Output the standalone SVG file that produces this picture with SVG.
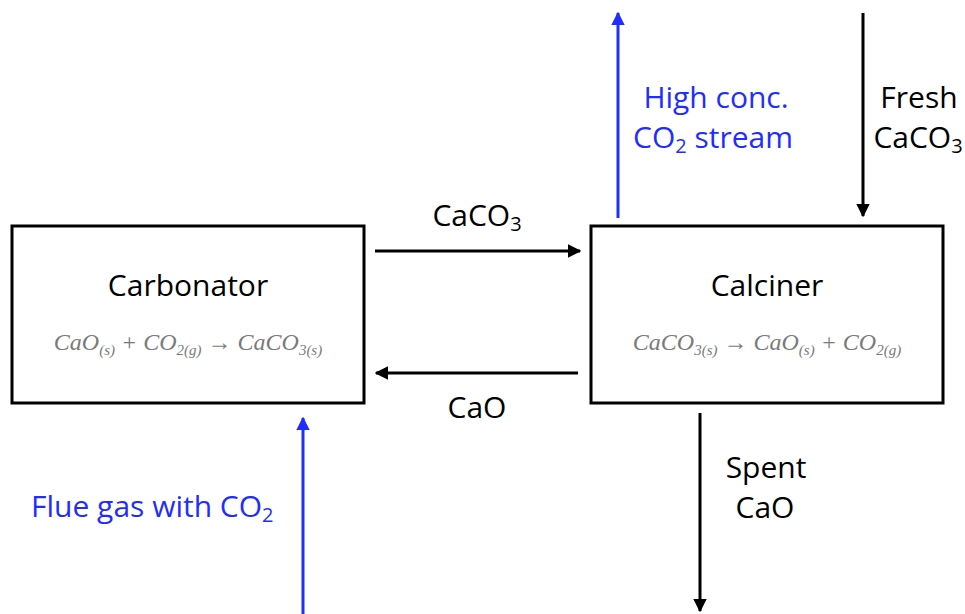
<svg xmlns="http://www.w3.org/2000/svg" width="965" height="614" viewBox="0 0 965 614">
<style>
.box{fill:#fff;stroke:#000;stroke-width:3}
.lbl{font-family:"Open Sans","Liberation Sans",sans-serif;font-size:30px;fill:#000}
.blue{fill:#1f2eff}
.eq{font-family:"Liberation Serif",serif;font-style:italic;font-size:24px;fill:#7a7a7a}
.ln{stroke:#000;stroke-width:3;fill:none}
.lnb{stroke:#1f2eff;stroke-width:3;fill:none}
</style>
<defs>
<marker id="ah" viewBox="0 0 10 10" refX="9" refY="5" markerWidth="4.5" markerHeight="4.5" orient="auto" markerUnits="strokeWidth">
<path d="M0,0 L10,5 L0,10 z" fill="#000"/>
</marker>
<marker id="ahb" viewBox="0 0 10 10" refX="9" refY="5" markerWidth="4.5" markerHeight="4.5" orient="auto" markerUnits="strokeWidth">
<path d="M0,0 L10,5 L0,10 z" fill="#1f2eff"/>
</marker>
</defs>
<rect width="965" height="614" fill="#fff"/>
<g id="carbonator">
<rect class="box" x="12" y="226" width="352" height="177"/>
<text class="lbl" x="188" y="296" text-anchor="middle">Carbonator</text>
<text class="eq" x="188" y="350" text-anchor="middle">CaO<tspan font-size="15" dy="5">(s)</tspan><tspan dy="-5"> + CO</tspan><tspan font-size="15" dy="5">2(g)</tspan><tspan dy="-5"> → CaCO</tspan><tspan font-size="15" dy="5">3(s)</tspan></text>
</g>
<g id="calciner">
<rect class="box" x="591" y="226" width="352" height="177"/>
<text class="lbl" x="767" y="296" text-anchor="middle">Calciner</text>
<text class="eq" x="767" y="350" text-anchor="middle">CaCO<tspan font-size="15" dy="5">3(s)</tspan><tspan dy="-5"> → CaO</tspan><tspan font-size="15" dy="5">(s)</tspan><tspan dy="-5"> + CO</tspan><tspan font-size="15" dy="5">2(g)</tspan></text>
</g>
<g id="connectors">
<line class="ln" x1="375" y1="251" x2="580" y2="251" marker-end="url(#ah)"/>
<line class="ln" x1="578" y1="373" x2="376" y2="373" marker-end="url(#ah)"/>
<line class="lnb" x1="618" y1="218" x2="618" y2="13" marker-end="url(#ahb)"/>
<line class="ln" x1="863" y1="13" x2="863" y2="216" marker-end="url(#ah)"/>
<line class="lnb" x1="303" y1="614" x2="303" y2="418" marker-end="url(#ahb)"/>
<line class="ln" x1="700" y1="413" x2="700" y2="611" marker-end="url(#ah)"/>
</g>
<g id="labels">
<text class="lbl" x="477" y="226" text-anchor="middle">CaCO<tspan font-size="20" dy="5">3</tspan></text>
<text class="lbl" x="477" y="418" text-anchor="middle">CaO</text>
<text class="lbl blue" x="716" y="108" text-anchor="middle">High conc.</text>
<text class="lbl blue" x="713" y="148" text-anchor="middle">CO<tspan font-size="20" dy="5">2</tspan><tspan dy="-5"> stream</tspan></text>
<text class="lbl" x="919" y="108" text-anchor="middle">Fresh</text>
<text class="lbl" x="918" y="148" text-anchor="middle">CaCO<tspan font-size="20" dy="5">3</tspan></text>
<text class="lbl blue" x="31" y="517">Flue gas with CO<tspan font-size="20" dy="5">2</tspan></text>
<text class="lbl" x="766" y="478" text-anchor="middle">Spent</text>
<text class="lbl" x="765" y="518" text-anchor="middle">CaO</text>
</g>
</svg>
